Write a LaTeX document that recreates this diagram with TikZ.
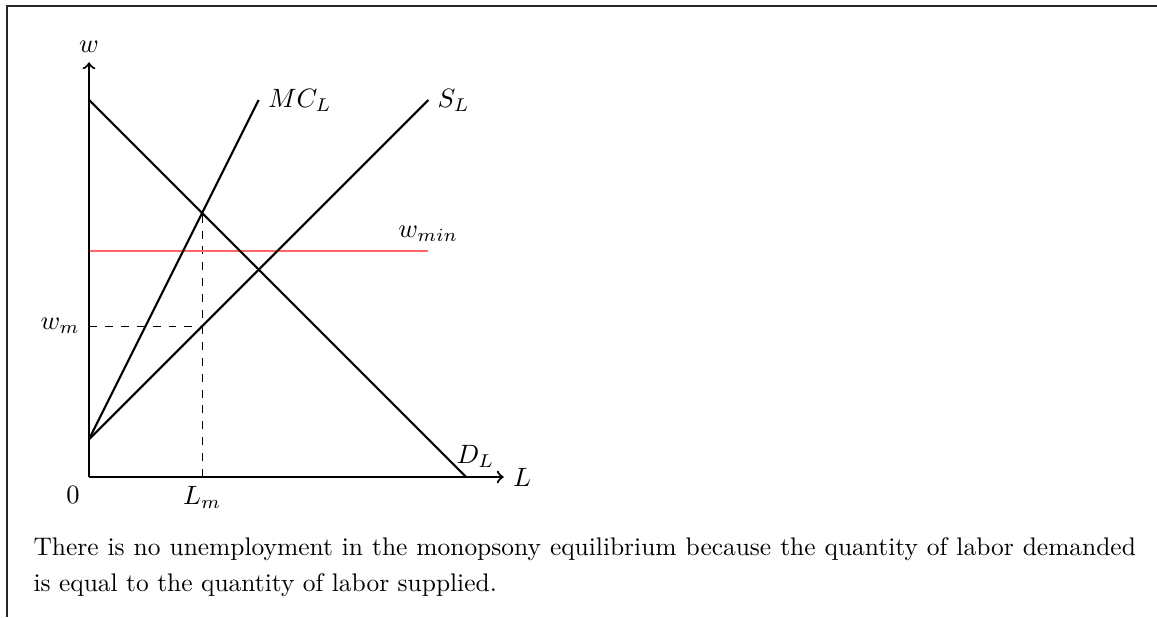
\documentclass[tikz,border=0pt]{standalone}
\begin{document}
\begin{tikzpicture}[x=0.5cm,y=0.5cm,
  axis/.style={thick,->},
  curve/.style={thick},
  guide/.style={dashed},
  floor/.style={thick,red!60},
  frameline/.style={line width=0.5pt,black!85},
  captext/.style={anchor=north west, inner sep=0pt, text width=416pt, align=justify, font=\fontsize{9.6}{13.3}\selectfont\hyphenpenalty10000\relax}]
\useasboundingbox (-2.361,-3.714) rectangle (28.329,12.653);
% frame
\coordinate (fr1) at (28.329,12.49);
\coordinate (fr2) at (-2.175,12.49);
\coordinate (fr3) at (-2.175,-3.714);
\draw[frameline] (fr1) -- (fr2) -- (fr3);
% key points
\coordinate (O) at (0,0);
\coordinate (ytop) at (0,11);
\coordinate (xend) at (11,0);
\coordinate (D0) at (0,10);
\coordinate (D1) at (10,0);
\coordinate (M0) at (0,1);
\coordinate (M1) at (4.5,10);
\coordinate (S1) at (9,10);
\coordinate (W0) at (0,6);
\coordinate (W1) at (9,6);
\coordinate (E) at (3,7);
\coordinate (wmpt) at (0,4);
\coordinate (Sm) at (3,4);
\coordinate (Lmpt) at (3,0);
\coordinate (DLpos) at (10.25,0);
% guides
\draw[guide] (wmpt) -- (Sm);
\draw[guide] (Lmpt) -- (E);
% wage floor
\draw[floor] (W0) -- (W1);
% curves
\draw[curve] (D0) -- (D1);
\draw[curve] (M0) -- (M1);
\draw[curve] (M0) -- (S1);
% axes
\draw[axis] (O) -- (ytop);
\draw[axis] (O) -- (xend);
% labels
\node (w) [above] at (ytop) {$w$};
\node (L) [right] at (xend) {$L$};
\node (zero) [below left] at (O) {$0$};
\node (MC) [right] at (M1) {$MC_L$};
\node (SL) [right] at (S1) {$S_L$};
\node (wmin) [above] at (W1) {$w_{min}$};
\node (DL) [above] at (DLpos) {$D_L$};
\node (wm) [left] at (wmpt) {$w_m$};
\node (Lm) [below] at (Lmpt) {$L_m$};
% caption
\node (cap) [captext] at (-1.485,-1.60) {There is no unemployment in the monopsony equilibrium because the quantity of labor demanded\linebreak is equal to the quantity of labor supplied.};
\end{tikzpicture}
\end{document}
